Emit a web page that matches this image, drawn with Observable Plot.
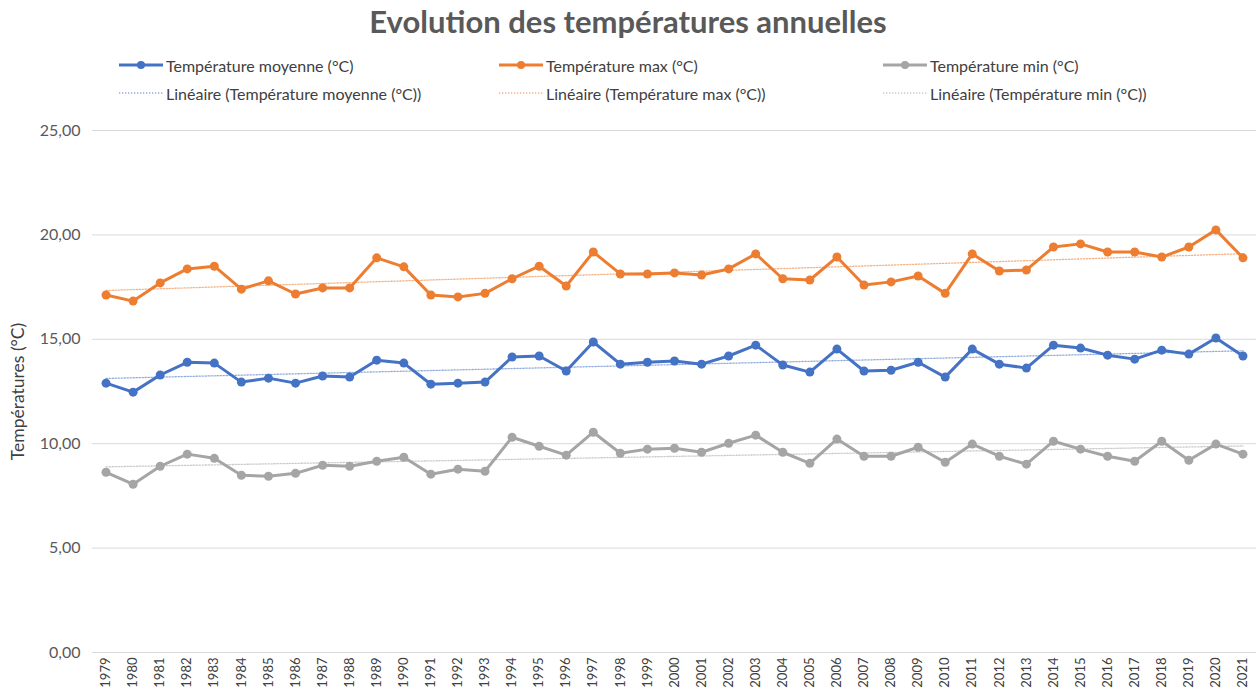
<!DOCTYPE html>
<html>
<head>
<meta charset="utf-8">
<script src="https://cdn.jsdelivr.net/npm/d3@7"></script>
<script src="https://cdn.jsdelivr.net/npm/@observablehq/plot@0.6"></script>
<style>
  body { margin: 0; background: #fff; font-family: Lato, "Open Sans", sans-serif; }
  #wrap { position: relative; width: 1256px; height: 699px; overflow: hidden; }
  #title { position: absolute; top: 2px; left: 0; width: 1256px; text-align: center; font-size: 31px; font-weight: bold; color: #595959; }
  .leg { position: absolute; display: flex; align-items: center; font-size: 16px; color: #404040; white-space: nowrap; }
  .leg svg { margin-right: 2px; }
  #chart { position: absolute; left: 0; top: 112px; }
</style>
</head>
<body>
<div id="wrap">
  <div id="title">Evolution des températures annuelles</div>
  <div id="legend"></div>
  <div id="chart"></div>
</div>
<script>
const years = [1979,1980,1981,1982,1983,1984,1985,1986,1987,1988,1989,1990,1991,1992,1993,1994,1995,1996,1997,1998,1999,2000,2001,2002,2003,2004,2005,2006,2007,2008,2009,2010,2011,2012,2013,2014,2015,2016,2017,2018,2019,2020,2021];
const tMoy = [12.90,12.47,13.29,13.90,13.86,12.95,13.14,12.90,13.24,13.19,14.00,13.86,12.85,12.90,12.95,14.15,14.20,13.48,14.87,13.81,13.90,13.96,13.81,14.20,14.72,13.77,13.43,14.53,13.48,13.52,13.90,13.19,14.53,13.81,13.62,14.72,14.58,14.24,14.05,14.48,14.29,15.06,14.20];
const tMax = [17.12,16.83,17.70,18.37,18.50,17.40,17.80,17.17,17.46,17.46,18.90,18.47,17.12,17.03,17.20,17.90,18.50,17.55,19.18,18.13,18.13,18.18,18.08,18.37,19.09,17.90,17.84,18.94,17.60,17.75,18.03,17.20,19.09,18.27,18.32,19.42,19.57,19.18,19.18,18.94,19.42,20.24,18.90];
const tMin = [8.63,8.06,8.92,9.50,9.30,8.49,8.44,8.58,8.97,8.92,9.16,9.35,8.54,8.78,8.68,10.31,9.88,9.45,10.55,9.54,9.74,9.78,9.59,10.02,10.41,9.59,9.06,10.22,9.40,9.40,9.83,9.11,9.98,9.40,9.02,10.12,9.74,9.40,9.16,10.12,9.21,9.98,9.50];
const seriesNames = ["Température moyenne (°C)", "Température max (°C)", "Température min (°C)"];
const trendNames = ["Linéaire (Température moyenne (°C))", "Linéaire (Température max (°C))", "Linéaire (Température min (°C))"];
const yTitle = "Températures (°C)";
const colors = ["#4472C4", "#ED7D31", "#A5A5A5"];
const yTicks = [0, 5, 10, 15, 20, 25];

const seriesValues = [tMoy, tMax, tMin];
const data = seriesValues.map((vals, i) => years.map((y, j) => ({year: y, value: vals[j], series: seriesNames[i]})));

// Legend
const legendX = [118, 498, 882];
const legendY = [67, 95];
const leg = document.getElementById("legend");
seriesNames.forEach((name, i) => {
  const d1 = document.createElement("div");
  d1.className = "leg";
  d1.style.left = legendX[i] + "px";
  d1.style.top = (legendY[0] - 12) + "px";
  d1.innerHTML = `<svg width="46" height="20"><line x1="1" x2="45" y1="10" y2="10" stroke="${colors[i]}" stroke-width="3"/><circle cx="23" cy="10" r="4" fill="${colors[i]}"/></svg><span>${name}</span>`;
  leg.appendChild(d1);
  const d2 = document.createElement("div");
  d2.className = "leg";
  d2.style.left = legendX[i] + "px";
  d2.style.top = (legendY[1] - 12) + "px";
  d2.innerHTML = `<svg width="46" height="20"><line x1="1" x2="45" y1="10" y2="10" stroke="${colors[i]}" stroke-opacity="0.6" stroke-width="1.3" stroke-dasharray="1.3,1.7"/></svg><span>${trendNames[i]}</span>`;
  leg.appendChild(d2);
});

const marks = [
  Plot.ruleY(yTicks, {stroke: "#d9d9d9", strokeWidth: 1}),
  Plot.axisY({ticks: yTicks, tickSize: 0, tickPadding: 12, tickFormat: d => d.toFixed(2).replace(".", ","),
    label: null, fontSize: 16, fill: "#595959"}),
  Plot.text([yTitle], {frameAnchor: "left", dx: -74, rotate: -90, textAnchor: "middle", fontSize: 17.5, fill: "#404040"}),
  Plot.axisX({ticks: years, tickSize: 0, tickPadding: 5, tickRotate: -90, tickFormat: d => String(d), label: null, fontSize: 13, fill: "#404040"})
];
data.forEach((d, i) => {
  marks.push(Plot.linearRegressionY(d, {x: "year", y: "value", stroke: colors[i], ci: 0, strokeWidth: 1.3, strokeOpacity: 0.6, strokeDasharray: "1.3,1.7"}));
});
data.forEach((d, i) => {
  marks.push(Plot.line(d, {x: "year", y: "value", stroke: colors[i], strokeWidth: 3}));
  marks.push(Plot.dot(d, {x: "year", y: "value", fill: colors[i], r: 4.5}));
});

const chart = Plot.plot({
  width: 1256,
  height: 587,
  marginTop: 18,
  marginBottom: 47,
  marginLeft: 92,
  marginRight: 0,
  style: {fontFamily: "Lato, 'Open Sans', sans-serif", fontSize: "16px", color: "#505050", background: "#fff", overflow: "visible"},
  x: {type: "linear", domain: [1978.5, 2021.5]},
  y: {domain: [0, 25]},
  marks
});
document.getElementById("chart").appendChild(chart);
</script>
</body>
</html>
